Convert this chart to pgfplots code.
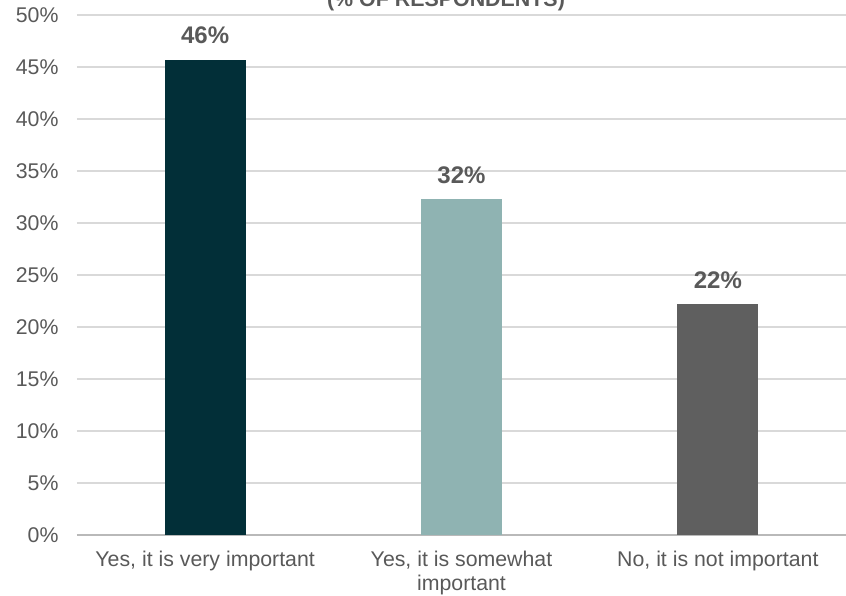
\documentclass[border=0pt]{standalone}
\usepackage{fontspec}
\setmainfont{Liberation Sans}
\usepackage{pgfplots}
\pgfplotsset{compat=1.18}
\definecolor{cA}{HTML}{022F38}
\definecolor{cB}{HTML}{8FB3B2}
\definecolor{cC}{HTML}{5F5F5F}
\definecolor{txt}{HTML}{595959}
\definecolor{grd}{HTML}{D9D9D9}
\begin{document}
\begin{tikzpicture}[x=1pt,y=1pt]
\useasboundingbox (0,0) rectangle (846,596);
\begin{axis}[
  at={(77pt,61pt)}, anchor=south west,
  scale only axis, width=769pt, height=520pt,
  xmin=-0.5, xmax=2.5, ymin=0, ymax=50,
  axis line style={draw=none},
  major tick length=0pt,
  ytick={0,5,...,50},
  ymajorgrids, grid style={grd, line width=1.3pt},
  extra y ticks={0}, extra y tick labels={},
  extra y tick style={grid style={draw=gray!55, line width=1.3pt}},
  yticklabel={\pgfmathprintnumber{\tick}\%},
  yticklabel style={xshift=-15pt},
  xtick={0,1,2},
  xticklabels={{Yes, it is very important},{Yes, it is somewhat\\important},{No, it is not important}},
  xticklabel style={align=center, yshift=-13pt},
  ticklabel style={font=\fontsize{21.3}{24}\selectfont, text=txt},
  /pgf/number format/assume math mode=true,
  nodes near coords={\pgfmathprintnumber[fixed,precision=0]{\pgfplotspointmeta}\%},
  every node near coord/.append style={font=\bfseries\fontsize{24}{28}\selectfont, text=txt, anchor=south, yshift=12pt},
  clip=false,
]
\addplot[ybar, bar width=81pt, bar shift=0pt, fill=cA, draw=none] coordinates {(0,45.7)};
\addplot[ybar, bar width=81pt, bar shift=0pt, fill=cB, draw=none] coordinates {(1,32.3)};
\addplot[ybar, bar width=81pt, bar shift=0pt, fill=cC, draw=none] coordinates {(2,22.2)};
\end{axis}
\node[anchor=base, font=\bfseries\fontsize{21.4}{25}\selectfont, text=txt] at (446,589) {(\% OF RESPONDENTS)};
\end{tikzpicture}
\end{document}
